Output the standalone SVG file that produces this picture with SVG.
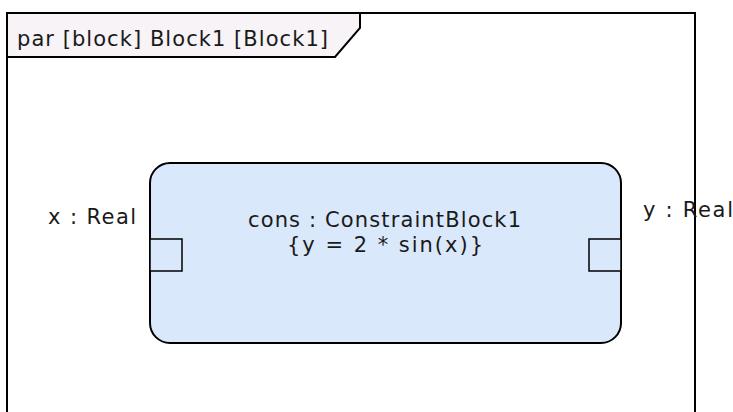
<svg xmlns="http://www.w3.org/2000/svg" width="733" height="412" viewBox="0 0 733 412">
  <style>
    .line { stroke: #000; stroke-width: 2; }
    .lbl { font-family: "DejaVu Sans", "Noto Sans", sans-serif; font-size: 21px; fill: #1a1a1a; }
  </style>
  <rect width="733" height="412" fill="#fff"/>
  <g id="frame">
    <path class="line" d="M7,420 V13 H695 V420" fill="none"/>
    <path class="line" d="M7,13 H360 V28 L335,57 H7 Z" fill="#f7f3f6"/>
    <text class="lbl" x="17" y="46" textLength="311" lengthAdjust="spacing">par [block] Block1 [Block1]</text>
  </g>
  <g id="cons">
    <rect class="line" x="150" y="163" width="471" height="180" rx="20" ry="20" fill="#dae8fb"/>
    <text class="lbl" x="248" y="227" textLength="273" lengthAdjust="spacing">cons : ConstraintBlock1</text>
    <text class="lbl" x="287" y="252" textLength="196" lengthAdjust="spacing">{y = 2 * sin(x)}</text>
  </g>
  <g id="port-x">
    <rect x="150" y="239" width="32" height="32" fill="#dae8fb" stroke="#000" stroke-width="1.5"/>
    <text class="lbl" x="48" y="224" textLength="88" lengthAdjust="spacing">x : Real</text>
  </g>
  <g id="port-y">
    <rect x="589" y="239" width="32" height="32" fill="#dae8fb" stroke="#000" stroke-width="1.5"/>
    <text class="lbl" x="643" y="217" textLength="90" lengthAdjust="spacing">y : Real</text>
  </g>
  <g id="connectors"></g>
</svg>
